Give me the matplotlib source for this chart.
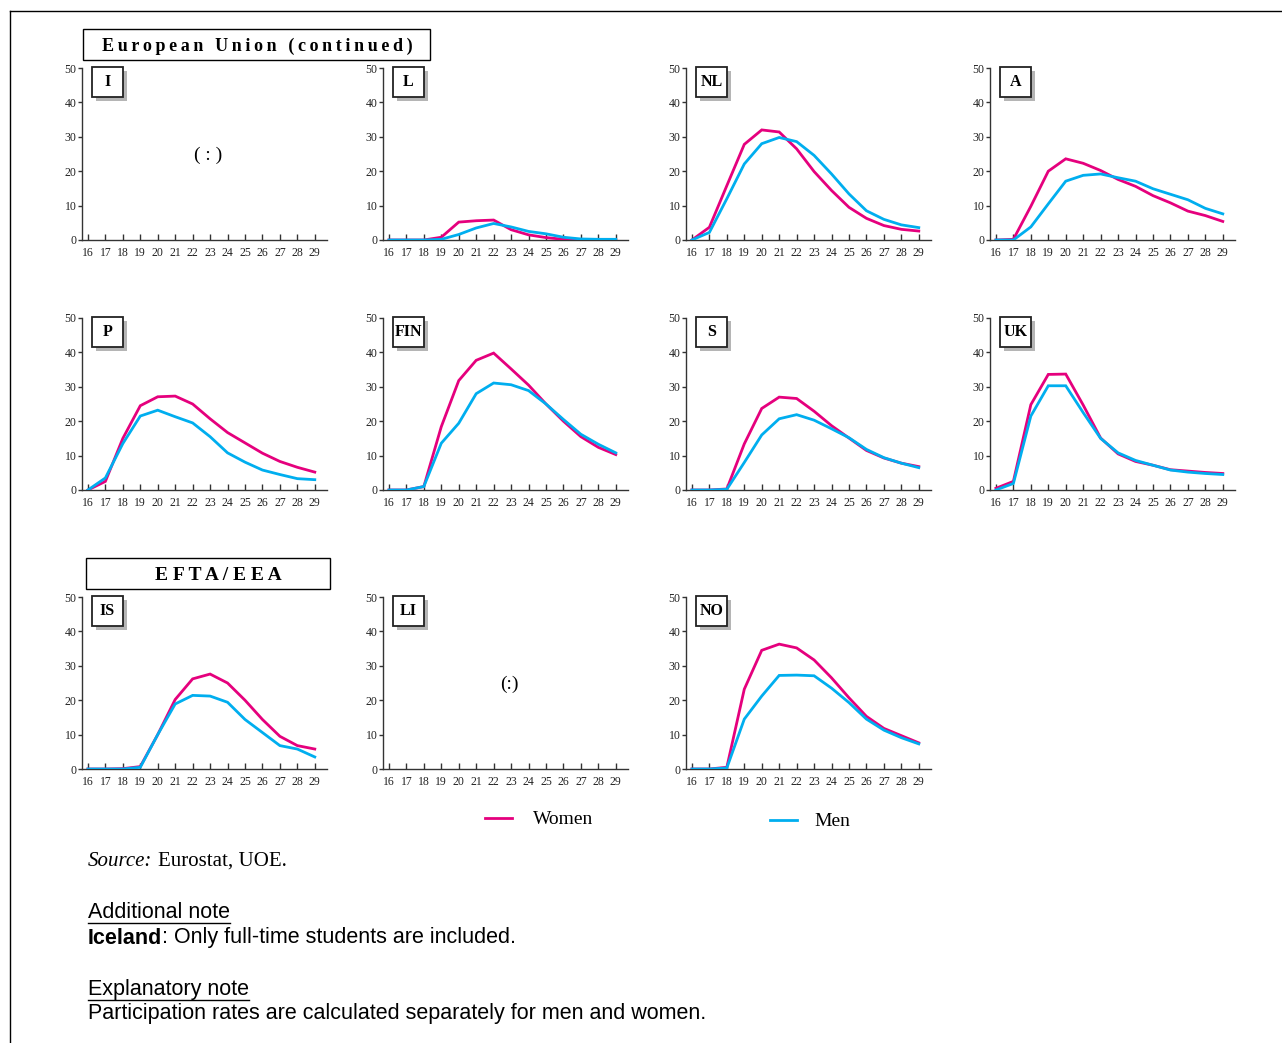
import matplotlib.pyplot as plt
from matplotlib.patches import Rectangle
from matplotlib.lines import Line2D

# ages on the x axis
ages = list(range(16, 30))

# participation rates (%)
l_women = [0, 0, 0, 0.8, 5.2, 5.6, 5.8, 3.0, 1.5, 0.7, 0.2, 0, 0, 0]
l_men = [0, 0, 0, 0.2, 1.6, 3.5, 4.8, 3.8, 2.5, 1.8, 0.8, 0.3, 0.2, 0.2]

nl_women = [0, 3.7, 15.8, 27.8, 32.0, 31.4, 26.5, 19.9, 14.4, 9.5, 6.3, 4.2, 3.1, 2.6]
nl_men = [0, 2.2, 12.0, 22.1, 28.0, 29.8, 28.6, 24.6, 19.2, 13.4, 8.5, 6.0, 4.4, 3.6]

a_women = [0, 0.2, 9.8, 20.0, 23.6, 22.3, 20.2, 17.6, 15.6, 12.9, 10.8, 8.4, 7.1, 5.4]
a_men = [0, 0, 3.8, 10.5, 17.1, 18.8, 19.2, 18.1, 17.1, 14.9, 13.3, 11.7, 9.2, 7.6]

p_women = [0, 2.5, 15.0, 24.5, 27.1, 27.3, 25.0, 20.7, 16.7, 13.7, 10.7, 8.3, 6.6, 5.2]
p_men = [0, 3.5, 13.5, 21.5, 23.2, 21.3, 19.5, 15.5, 10.8, 8.1, 5.8, 4.5, 3.3, 3.0]

fin_women = [0, 0, 1.0, 18.4, 31.8, 37.7, 39.8, 35.2, 30.5, 25.0, 20.0, 15.5, 12.4, 10.3]
fin_men = [0, 0, 1.0, 13.6, 19.4, 28.0, 31.1, 30.6, 28.9, 25.0, 20.5, 16.2, 13.3, 10.8]

s_women = [0, 0, 0.3, 13.4, 23.7, 27.0, 26.6, 22.9, 18.7, 15.1, 11.5, 9.3, 7.8, 6.8]
s_men = [0, 0, 0.2, 8.0, 16.0, 20.7, 21.9, 20.3, 17.8, 15.2, 11.8, 9.4, 7.8, 6.5]

uk_women = [0.5, 2.5, 24.8, 33.6, 33.7, 24.7, 15.1, 10.5, 8.3, 7.2, 5.9, 5.5, 5.1, 4.8]
uk_men = [0, 1.9, 21.5, 30.3, 30.3, 22.5, 15.0, 10.8, 8.6, 7.2, 5.8, 5.2, 4.8, 4.5]

is_women = [0, 0, 0.1, 0.7, 10.0, 20.2, 26.2, 27.6, 25.0, 20.0, 14.4, 9.5, 6.8, 5.8]
is_men = [0, 0, 0, 0.5, 10.0, 18.9, 21.4, 21.2, 19.4, 14.4, 10.6, 6.8, 5.8, 3.5]

no_women = [0, 0, 0.5, 23.2, 34.5, 36.3, 35.2, 31.7, 26.5, 20.7, 15.3, 11.8, 9.7, 7.6]
no_men = [0, 0, 0.3, 14.5, 21.2, 27.2, 27.3, 27.1, 23.5, 19.3, 14.5, 11.3, 9.1, 7.3]

countries = ["I", "L", "NL", "A", "P", "FIN", "S", "UK", "IS", "LI", "NO"]
women = [None, l_women, nl_women, a_women, p_women, fin_women, s_women, uk_women,
         is_women, None, no_women]
men = [None, l_men, nl_men, a_men, p_men, fin_men, s_men, uk_men,
       is_men, None, no_men]
missing_label = {"I": "( : )", "LI": "(:)"}

W, H = 1282, 1043
serif = ["Liberation Serif", "DejaVu Serif"]
sans = ["Liberation Sans", "DejaVu Sans"]
pink = "#e5007d"
blue = "#00aeef"
dark = "#333333"

fig = plt.figure(figsize=(W / 100, H / 100), dpi=100)

# background layer in pixel coords for boxes, legend and notes
bg = fig.add_axes([0, 0, 1, 1])
bg.set_xlim(0, W)
bg.set_ylim(H, 0)
bg.axis("off")

# page frame
bg.plot([10, W], [11, 11], color="black", lw=1)
bg.plot([10, 10], [11, H], color="black", lw=1)

lefts = [82, 383, 686, 990]
tops = [68, 318, 597]
aw, ah = 245, 172

for i, name in enumerate(countries):
    row, col = divmod(i, 4)
    left, top = lefts[col], tops[row]
    ax = fig.add_axes([left / W, 1 - (top + ah) / H, aw / W, ah / H])
    if women[i] is not None:
        ax.plot(ages, women[i], color=pink, lw=2.0, solid_joinstyle="miter", zorder=3)
        ax.plot(ages, men[i], color=blue, lw=2.0, solid_joinstyle="miter", zorder=3)
    else:
        ax.text(22.9, 24.7, missing_label[name], ha="center", va="center",
                fontsize=14, family=serif)
    ax.set_xlim(15.66, 29.7)
    ax.set_ylim(0, 50)
    ax.set_xticks(ages)
    ax.set_yticks(range(0, 51, 10))
    for side in ("top", "right"):
        ax.spines[side].set_visible(False)
    for side in ("left", "bottom"):
        ax.spines[side].set_color(dark)
        ax.spines[side].set_linewidth(1.0)
    ax.tick_params(axis="x", direction="in", length=4, width=1, color=dark, pad=5,
                   labelsize=8.5, labelcolor="#222222")
    ax.tick_params(axis="y", direction="out", length=3, width=1, color=dark, pad=1,
                   labelsize=8.5, labelcolor="#222222")
    for lab in ax.get_xticklabels() + ax.get_yticklabels():
        lab.set_family(serif)
    ax.patch.set_alpha(0)

    # country label box with shadow
    bx, by, bw, bh = 10 / aw, 1 + 1 / ah, 31 / aw, 30 / ah
    ax.add_patch(Rectangle((bx + 4 / aw, by - bh - 4 / ah), bw, bh, transform=ax.transAxes,
                           facecolor="#b5b5b5", edgecolor="none", clip_on=False, zorder=4))
    ax.add_patch(Rectangle((bx, by - bh), bw, bh, transform=ax.transAxes,
                           facecolor="white", edgecolor="#222222", lw=1.3, clip_on=False, zorder=5))
    ax.text(bx + bw / 2, by - bh / 2, name, transform=ax.transAxes, ha="center", va="center",
            fontsize=11.5, fontweight="bold", family=serif, zorder=6)

# section header boxes
bg.add_patch(Rectangle((83, 29), 347, 31, facecolor="white", edgecolor="black", lw=1.0))
bg.text(257, 46, "\u2009".join("European Union (continued)"), ha="center", va="center",
        fontsize=13, fontweight="bold", family=serif)
bg.add_patch(Rectangle((86, 558), 244, 31, facecolor="white", edgecolor="black", lw=1.0))
bg.text(218, 575, "E F T A / E E A", ha="center", va="center",
        fontsize=14, fontweight="bold", family=serif)

# legend
bg.add_line(Line2D([485, 512], [818, 818], color=pink, lw=2.0))
bg.text(533, 819, "Women", ha="left", va="center", fontsize=14, family=serif)
bg.add_line(Line2D([770, 797], [820, 820], color=blue, lw=2.0))
bg.text(814, 821, "Men", ha="left", va="center", fontsize=14, family=serif)

# notes
src = bg.text(88, 861, "Source:", ha="left", va="center", fontsize=15, family=serif,
              style="italic")
bg.annotate("Eurostat, UOE.", xy=(1, 0.5), xycoords=src, xytext=(4, 0),
            textcoords="offset points", ha="left", va="center", fontsize=15, family=serif)

add_t = bg.text(88, 912, "Additional note", ha="left", va="center", fontsize=15.5, family=sans)
ice = bg.text(88, 938, "Iceland", ha="left", va="center", fontsize=15.5, family=sans,
              fontweight="bold")
bg.annotate(": Only full-time students are included.", xy=(1, 0.5), xycoords=ice,
            ha="left", va="center", fontsize=15.5, family=sans)
exp_t = bg.text(88, 989, "Explanatory note", ha="left", va="center", fontsize=15.5, family=sans)
bg.text(88, 1014, "Participation rates are calculated separately for men and women.",
        ha="left", va="center", fontsize=15.5, family=sans)

# underline the two note headings
fig.canvas.draw()
renderer = fig.canvas.get_renderer()
inv = bg.transData.inverted()
for t in (add_t, exp_t):
    bb = t.get_window_extent(renderer)
    (x0, y0), (x1, y1) = inv.transform([(bb.x0, bb.y0), (bb.x1, bb.y1)])
    bg.add_line(Line2D([x0, x1], [y0, y0], color="black", lw=1.0))

fig.savefig("out.png", dpi=100)
